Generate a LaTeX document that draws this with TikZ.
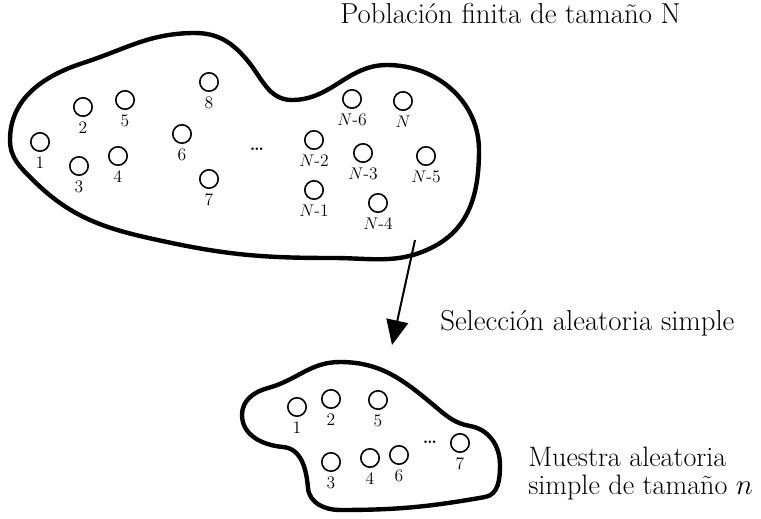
\documentclass[tikz,border=0pt]{standalone}
\usetikzlibrary{arrows.meta}
\begin{document}
\begin{tikzpicture}[font=\fontsize{12.5}{14}\selectfont,
                unit/.style={circle, draw, line width=0.04cm, minimum size=0.46cm, inner sep=0pt},
                outline/.style={line width=0.11cm, line join=round},
                caption/.style={font=\fontsize{20.5}{21}\selectfont, inner sep=0pt},
                dots/.style={font=\fontsize{12.5}{14}\selectfont\bfseries, inner sep=0pt}]
                \useasboundingbox (0,0) rectangle (19.025000,12.950000);

                % Drawing population outline
                \draw [outline] (0.250000,9.450000) to[out=90,in=198] (2.075000,11.375000)
                  to[out=18,in=180] (4.875000,12.125000) to[out=0,in=130] (6.175000,11.450000)
                  to[out=-50,in=180] (7.300000,10.450000) to[out=0,in=180] (9.675000,11.325000)
                  to[out=0,in=90] (11.975000,9.200000) to[out=-90,in=27] (10.825000,6.775000)
                  to[out=-153,in=0] (8.325000,6.500000) to[out=180,in=-12] (4.175000,6.900000)
                  to[out=168,in=-45] (0.825000,8.450000) to[out=135,in=-90] cycle;%

                % Drawing sample outline
                \draw [outline] (6.050000,2.575000) to[out=90,in=195] (6.700000,3.250000)
                  to[out=15,in=180] (8.500000,3.900000) to[out=0,in=140] (10.925000,2.750000)
                  to[out=-40,in=170] (11.750000,2.300000) to[out=-10,in=90] (12.500000,1.325000)
                  to[out=-90,in=10] (12.125000,0.525000) to[out=-170,in=0] (8.500000,0.200000)
                  to[out=180,in=-85] (7.700000,0.750000) to[out=95,in=-5] (7.075000,1.775000)
                  to[out=175,in=-90] cycle;%

                % Marking population units
                \node [unit, label=below:1] (p1) at (1.000000,9.400000) {};%
                \node [unit, label=below:2] (p2) at (2.075000,10.275000) {};%
                \node [unit, label=below:3] (p3) at (1.975000,8.800000) {};%
                \node [unit, label=below:4] (p4) at (2.950000,9.050000) {};%
                \node [unit, label=below:5] (p5) at (3.125000,10.450000) {};%
                \node [unit, label=below:6] (p6) at (4.550000,9.600000) {};%
                \node [unit, label=below:7] (p7) at (5.225000,8.475000) {};%
                \node [unit, label=below:8] (p8) at (5.225000,10.900000) {};%
                \node [dots] (pdots) at (6.425000,9.225000) {\ldots};%
                \node [unit, label={below:$N$-2}] (pN2) at (7.850000,9.450000) {};%
                \node [unit, label={below:$N$-1}] (pN1) at (7.850000,8.200000) {};%
                \node [unit, label={below:$N$-6}] (pN6) at (8.800000,10.475000) {};%
                \node [unit, label={below:$N$-3}] (pN3) at (9.075000,9.125000) {};%
                \node [unit, label={below:$N$-4}] (pN4) at (9.450000,7.875000) {};%
                \node [unit, label={below:$N$}] (pN) at (10.075000,10.425000) {};%
                \node [unit, label={below:$N$-5}] (pN5) at (10.650000,9.050000) {};%

                % Marking sample units
                \node [unit, label=below:1] (s1) at (7.425000,2.775000) {};%
                \node [unit, label=below:2] (s2) at (8.275000,2.975000) {};%
                \node [unit, label=below:5] (s5) at (9.450000,2.950000) {};%
                \node [unit, label=below:3] (s3) at (8.275000,1.400000) {};%
                \node [unit, label=below:4] (s4) at (9.250000,1.500000) {};%
                \node [unit, label=below:6] (s6) at (9.975000,1.575000) {};%
                \node [dots] (sdots) at (10.750000,1.900000) {\ldots};%
                \node [unit, label=below:7] (s7) at (11.500000,1.875000) {};%

                % Drawing selection arrow
                \coordinate (arrowtail) at (10.375000,6.950000);%
                \coordinate (arrowtip) at (9.800000,4.325000);%
                \draw [line width=0.05cm, -{Triangle[length=0.62cm, width=0.55cm]}] (arrowtail) -- (arrowtip);%

                % Marking captions
                \node [caption, anchor=base west] (population) at (8.500000,12.350000) {Población finita de tamaño N};%
                \node [caption, anchor=base west] (selection) at (11.000000,4.700000) {Selección aleatoria simple};%
                \node [caption, font=\fontsize{20}{20.5}\selectfont, anchor=west, align=left] (sample) at (13.200000,1.115000) {Muestra aleatoria\\simple de tamaño $n$};%
\end{tikzpicture}
\end{document}
